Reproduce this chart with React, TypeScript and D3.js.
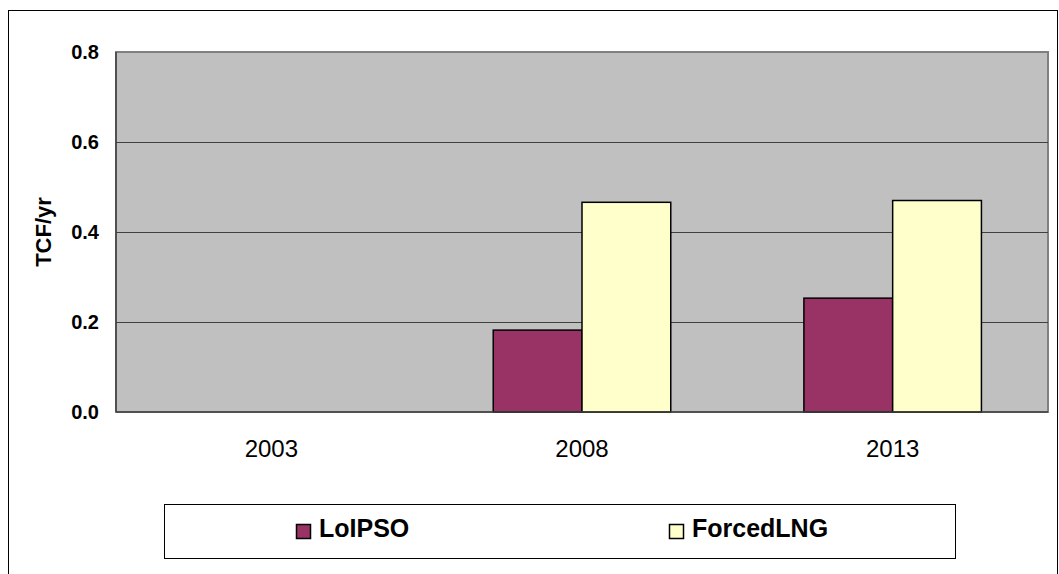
import React from "react";
import * as d3 from "d3";

// Chart data
const years = ["2003", "2008", "2013"];
const seriesNames = ["LoIPSO", "ForcedLNG"];
const loIPSO = [0, 0.182, 0.253];
const forcedLNG = [0, 0.466, 0.47];
const yTicks = [0, 0.2, 0.4, 0.6, 0.8];
const seriesColors = ["#993366", "#FFFFCC"];

const W = 1059;
const H = 574;
const plot = { left: 116, right: 1048, top: 52, bottom: 412 };
const legendBox = { x: 164, y: 504, w: 791, h: 54 };

export default function App() {
  const x = d3
    .scaleBand<string>()
    .domain(years)
    .range([plot.left, plot.right])
    .paddingInner(0)
    .paddingOuter(0);
  const groupWidth = x.bandwidth();
  // Excel-like gap width of 150%: two bars plus 1.5 bar widths of gap
  const barW = groupWidth / 3.5;
  const xs = d3
    .scaleBand<string>()
    .domain(seriesNames)
    .range([(groupWidth - 2 * barW) / 2, (groupWidth + 2 * barW) / 2]);
  const y = d3.scaleLinear().domain([0, 0.8]).range([plot.bottom, plot.top]);

  const values = [loIPSO, forcedLNG];
  const fmt = d3.format(".1f");

  const legendX = d3
    .scaleBand<string>()
    .domain(seriesNames)
    .range([legendBox.x + 132, legendBox.x + 132 + 2 * 373]);

  return (
    <svg
      width={W}
      height={H}
      style={{ position: "absolute", left: 0, top: 0, background: "#fff" }}
      fontFamily="Arial, 'Liberation Sans', sans-serif"
    >
      {/* outer chart border */}
      <rect x={8.5} y={10.5} width={1049} height={580} fill="#fff" stroke="#000" strokeWidth={1} />

      {/* plot area */}
      <rect
        x={plot.left}
        y={plot.top}
        width={plot.right - plot.left}
        height={plot.bottom - plot.top}
        fill="#C0C0C0"
        stroke="#808080"
        strokeWidth={2}
      />

      {/* gridlines */}
      {yTicks.slice(1, -1).map((t) => (
        <line
          key={t}
          x1={plot.left}
          x2={plot.right}
          y1={Math.round(y(t)) + 0.5}
          y2={Math.round(y(t)) + 0.5}
          stroke="#404040"
          strokeWidth={1}
        />
      ))}

      {/* bars */}
      {years.map((yr, i) => (
        <g key={yr} transform={`translate(${x(yr)},0)`}>
          {seriesNames.map((s, k) =>
            values[k][i] > 0 ? (
              <rect
                key={s}
                x={xs(s)}
                y={y(values[k][i])}
                width={xs.bandwidth()}
                height={y(0) - y(values[k][i])}
                fill={seriesColors[k]}
                stroke="#000"
                strokeWidth={1.5}
              />
            ) : null
          )}
        </g>
      ))}

      {/* axes lines */}
      <line x1={plot.left} x2={plot.left} y1={plot.top} y2={plot.bottom} stroke="#404040" strokeWidth={1.5} />
      <line x1={plot.left} x2={plot.right} y1={plot.bottom} y2={plot.bottom} stroke="#404040" strokeWidth={1.5} />

      {/* y tick labels */}
      {yTicks.map((t) => (
        <text
          key={t}
          x={99}
          y={y(t)}
          textAnchor="end"
          dominantBaseline="central"
          fontSize={20}
          fontWeight="bold"
          fill="#000"
        >
          {fmt(t)}
        </text>
      ))}

      {/* y axis title */}
      <text
        transform={`translate(43,232) rotate(-90)`}
        textAnchor="middle"
        dominantBaseline="central"
        fontSize={22}
        fontWeight="bold"
        fill="#000"
      >
        TCF/yr
      </text>

      {/* x tick labels */}
      {years.map((yr) => (
        <text
          key={yr}
          x={(x(yr) as number) + groupWidth / 2}
          y={457}
          textAnchor="middle"
          fontSize={24}
          fill="#000"
        >
          {yr}
        </text>
      ))}

      {/* legend */}
      <rect
        x={legendBox.x + 0.5}
        y={legendBox.y + 0.5}
        width={legendBox.w}
        height={legendBox.h}
        fill="#fff"
        stroke="#000"
        strokeWidth={1}
      />
      {seriesNames.map((s, k) => (
        <g key={s} transform={`translate(${legendX(s)},0)`}>
          <rect x={0.5} y={524.5} width={14} height={14} fill={seriesColors[k]} stroke="#000" strokeWidth={1.5} />
          <text x={23} y={537} fontSize={25} fontWeight="bold" fill="#000">
            {s}
          </text>
        </g>
      ))}
    </svg>
  );
}
